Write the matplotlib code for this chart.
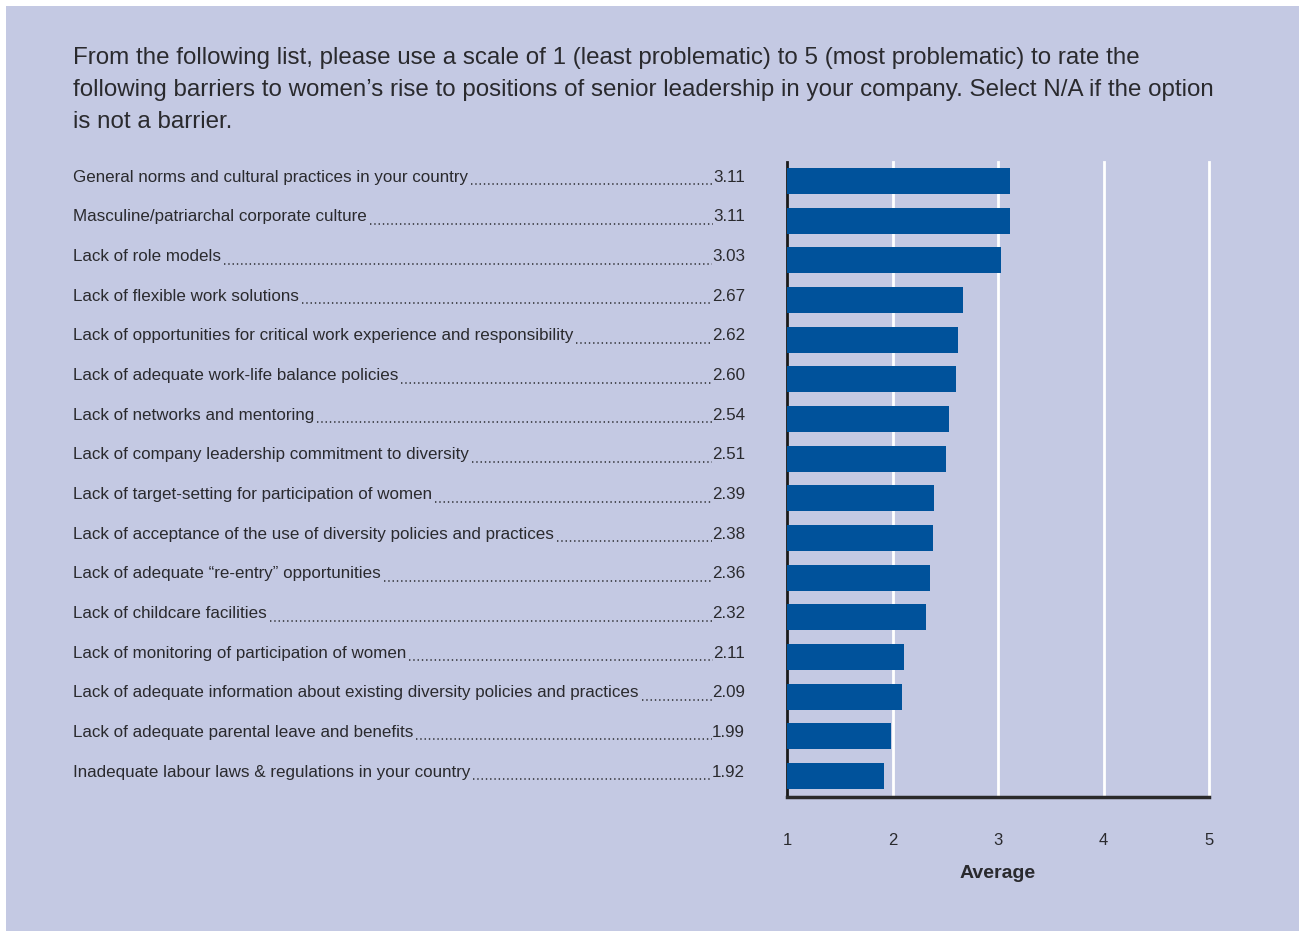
import matplotlib
matplotlib.use("Agg")
import matplotlib.pyplot as plt
from matplotlib.patches import Rectangle
from matplotlib.transforms import blended_transform_factory

plt.rcParams["font.family"] = ["Liberation Sans Narrow", "Liberation Sans", "DejaVu Sans"]

# survey data
barriers = [
    "General norms and cultural practices in your country",
    "Masculine/patriarchal corporate culture",
    "Lack of role models",
    "Lack of flexible work solutions",
    "Lack of opportunities for critical work experience and responsibility",
    "Lack of adequate work-life balance policies",
    "Lack of networks and mentoring",
    "Lack of company leadership commitment to diversity",
    "Lack of target-setting for participation of women",
    "Lack of acceptance of the use of diversity policies and practices",
    "Lack of adequate \u201cre-entry\u201d opportunities",
    "Lack of childcare facilities",
    "Lack of monitoring of participation of women",
    "Lack of adequate information about existing diversity policies and practices",
    "Lack of adequate parental leave and benefits",
    "Inadequate labour laws & regulations in your country",
]
averages = [3.11, 3.11, 3.03, 2.67, 2.62, 2.60, 2.54, 2.51, 2.39, 2.38, 2.36, 2.32, 2.11, 2.09, 1.99, 1.92]
x_ticks = [1, 2, 3, 4, 5]

title_lines = [
    "From the following list, please use a scale of 1 (least problematic) to 5 (most problematic) to rate the",
    "following barriers to women\u2019s rise to positions of senior leadership in your company. Select N/A if the option",
    "is not a barrier.",
]

W, H = 1299, 931
bg = "#c4c9e3"
bar_color = "#00529b"
text_color = "#2a2a2e"

fig = plt.figure(figsize=(W / 100, H / 100), dpi=100)
fig.patch.set_facecolor("white")
fig.patches.append(Rectangle((6 / W, 0), 1 - 6 / W, 1 - 6 / H, transform=fig.transFigure,
                             facecolor=bg, edgecolor="none", zorder=-10))

# question text, one line at a time so the baselines sit 32 px apart
for k, line in enumerate(title_lines):
    fig.text(73 / W, 1 - (64 + 32 * k) / H, line, fontsize=17.4, color=text_color,
             va="baseline", ha="left")

ax = fig.add_axes([787 / W, 134 / H, 422 / W, 635 / H])
ax.set_facecolor("none")
pos = list(range(len(barriers)))
ax.barh(pos, [v - 1 for v in averages], left=1, height=0.66, color=bar_color, zorder=3)
ax.set_xlim(1, 5)
ax.set_ylim(len(barriers) - 0.47, -0.48)
ax.set_xticks(x_ticks)
ax.set_xticklabels([str(t) for t in x_ticks], fontsize=12, color=text_color)
ax.tick_params(axis="x", length=0, pad=26)
ax.set_yticks([])
for t in x_ticks[1:]:
    ax.axvline(t, color="white", lw=2, zorder=2, clip_on=False)
for side in ["top", "right"]:
    ax.spines[side].set_visible(False)
ax.spines["left"].set_color("#1a1a1a")
ax.spines["left"].set_linewidth(2)
ax.spines["bottom"].set_color("#2a2a2a")
ax.spines["bottom"].set_linewidth(2.5)
ax.set_xlabel("Average", fontsize=14, fontweight="bold", color=text_color, labelpad=12)

# left-hand labels with dot leaders running to the value
trans = blended_transform_factory(fig.transFigure, ax.transData)
label_x = 73 / W
value_x = 745 / W
fig.canvas.draw()
renderer = fig.canvas.get_renderer()
for i, (name, val) in enumerate(zip(barriers, averages)):
    lt = fig.text(label_x, i - 0.1, name, transform=trans, fontsize=12.25, color=text_color,
                  ha="left", va="center")
    vt = fig.text(value_x, i - 0.1, f"{val:.2f}", transform=trans, fontsize=12.25, color=text_color,
                  ha="right", va="center")
    lb = lt.get_window_extent(renderer)
    vb = vt.get_window_extent(renderer)
    x0 = (lb.x1 + 3) / W
    x1 = vb.x0 / W
    dot_y = i + 0.08
    fig.add_artist(plt.Line2D([x0, x1], [dot_y, dot_y], transform=trans, color=text_color,
                              lw=1.1, linestyle=(0, (0.9, 1.9))))

fig.savefig("out.png", dpi=100, facecolor=fig.get_facecolor())
